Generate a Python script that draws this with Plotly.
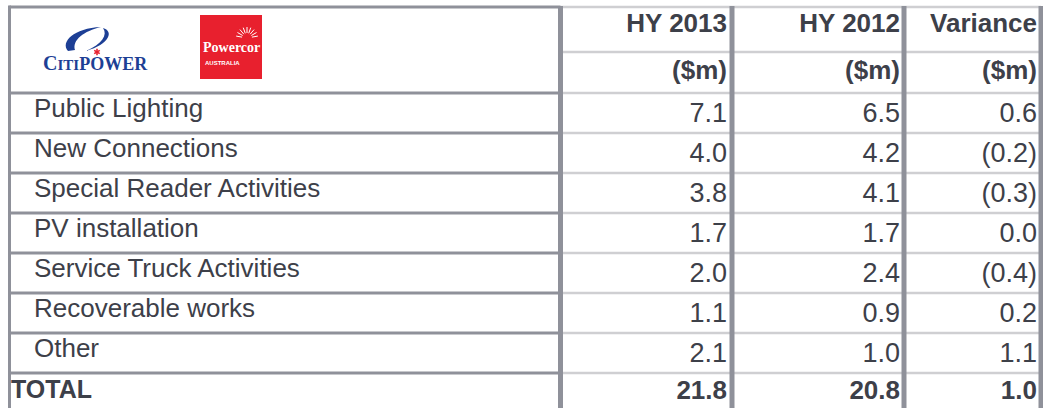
import math
import plotly.graph_objects as go

# ---------------- data ----------------
items = ["Public Lighting", "New Connections", "Special Reader Activities",
         "PV installation", "Service Truck Activities", "Recoverable works", "Other"]
hy2013 = [7.1, 4.0, 3.8, 1.7, 2.0, 1.1, 2.1]
hy2012 = [6.5, 4.2, 4.1, 1.7, 2.4, 0.9, 1.0]
variance = [0.6, -0.2, -0.3, 0.0, -0.4, 0.2, 1.1]
total_label = "TOTAL"
totals = [21.8, 20.8, 1.0]
col_headers = ["HY 2013", "HY 2012", "Variance"]
unit_label = "($m)"

# ---------------- geometry / style ----------------
W, H = 1043, 408
TXT = "#3d4049"
LINE = "#8f919a"
LIGHT = "#cfcfd2"
FONT = "Arial, Liberation Sans, sans-serif"

top = 7
hdr_mid = 52
first_row = 93
row_h = 40
left = 9.5
col_lines = [560.5, 732, 904, 1041]
col_right = [727, 900, 1037]


def fmt(v):
    return f"({abs(v):.1f})" if v < 0 else f"{v:.1f}"


n = len(items)
row_tops = [first_row + i * row_h for i in range(n + 1)]
label_y = [t + 17 for t in row_tops[:n]]
num_y = [t + 22 for t in row_tops[:n]]
total_y = row_tops[n] + 19

fig = go.Figure()

# item labels
fig.add_trace(go.Scatter(x=[34] * n, y=label_y, text=items, mode="text",
                         textposition="middle right",
                         textfont=dict(family=FONT, size=26, color=TXT),
                         hoverinfo="skip", showlegend=False))
fig.add_trace(go.Scatter(x=[11], y=[total_y], text=[f"<b>{total_label}</b>"], mode="text",
                         textposition="middle right",
                         textfont=dict(family=FONT, size=25, color=TXT),
                         hoverinfo="skip", showlegend=False))

# numeric columns
for cx, vals, tot, head in zip(col_right, [hy2013, hy2012, variance], totals, col_headers):
    fig.add_trace(go.Scatter(x=[cx] * n, y=num_y, text=[fmt(v) for v in vals], mode="text",
                             textposition="middle left",
                             textfont=dict(family=FONT, size=27, color=TXT),
                             hoverinfo="skip", showlegend=False))
    fig.add_trace(go.Scatter(x=[cx, cx, cx], y=[25, 72, total_y],
                             text=[f"<b>{head}</b>", f"<b>{unit_label}</b>", f"<b>{fmt(tot)}</b>"],
                             mode="text", textposition="middle left",
                             textfont=dict(family=FONT, size=26, color=TXT),
                             hoverinfo="skip", showlegend=False))

shapes = []
# light dotted lines across numeric columns
for y in [top, hdr_mid] + row_tops:
    shapes.append(dict(type="line", x0=col_lines[0], x1=col_lines[-1], y0=y, y1=y,
                       line=dict(color=LIGHT, width=2.5)))
# solid lines in label column
for y in [top] + row_tops:
    shapes.append(dict(type="line", x0=left, x1=col_lines[0], y0=y, y1=y,
                       line=dict(color=LINE, width=3)))
# left border
shapes.append(dict(type="line", x0=left, x1=left, y0=top - 1.5, y1=H,
                   line=dict(color=LINE, width=3)))
# vertical column lines
for x in col_lines:
    shapes.append(dict(type="line", x0=x, x1=x, y0=top - 1, y1=H,
                       line=dict(color=LINE, width=5)))

# ---- Powercor logo ----
shapes.append(dict(type="rect", x0=200, x1=262, y0=15, y1=79,
                   fillcolor="#e8202e", line=dict(width=0)))
cxs, cys = 247, 38
for k in range(9):
    a = math.radians(10 + k * 20)
    shapes.append(dict(type="line",
                       x0=cxs + 5 * math.cos(a), y0=cys - 5 * math.sin(a),
                       x1=cxs + 11 * math.cos(a), y1=cys - 11 * math.sin(a),
                       line=dict(color="white", width=1)))
# ---- CitiPower swoosh ----
BLUE = "#1d3f95"
shapes.append(dict(type="path",
                   path="M 68 51 C 60 42, 74 28, 101 27 C 84 31, 72 40, 75 50 Z",
                   fillcolor=BLUE, line=dict(width=0)))
shapes.append(dict(type="path",
                   path="M 103 28 C 114 31, 110 44, 86 51 C 102 44, 108 35, 103 28 Z",
                   fillcolor=BLUE, line=dict(width=0)))
# red star
for k in range(3):
    a = math.radians(90 + k * 60)
    shapes.append(dict(type="line",
                       x0=97 - 3.2 * math.cos(a), y0=52 - 3.2 * math.sin(a),
                       x1=97 + 3.2 * math.cos(a), y1=52 + 3.2 * math.sin(a),
                       line=dict(color="#e8202e", width=1.6)))

annotations = [
    dict(x=231, y=47, text="<b>Powercor</b>", showarrow=False,
         font=dict(family="Liberation Serif, serif", size=14, color="white"),
         xanchor="center", yanchor="middle"),
    dict(x=203, y=63, text="<b>AUSTRALIA</b>", showarrow=False,
         font=dict(family="Liberation Sans Narrow, Liberation Sans, sans-serif", size=6, color="white"),
         xanchor="left", yanchor="middle"),
    dict(x=95, y=63,
         text="<b><span style='font-size:20px'>C</span>ITI<span style='font-size:18px'>P</span>"
              "<span style='font-size:18px'>OWER</span></b>",
         showarrow=False, font=dict(family="Liberation Serif, serif", size=15, color=BLUE),
         xanchor="center", yanchor="middle"),
]

fig.update_layout(
    width=W, height=H,
    margin=dict(l=0, r=0, t=0, b=0),
    paper_bgcolor="white", plot_bgcolor="white",
    xaxis=dict(range=[0, W], visible=False, fixedrange=True),
    yaxis=dict(range=[H, 0], visible=False, fixedrange=True),
    shapes=shapes, annotations=annotations,
)

fig.write_html("out.html", config={"displayModeBar": False},
               post_script="document.body.style.margin='0';document.body.style.overflow='hidden';")
